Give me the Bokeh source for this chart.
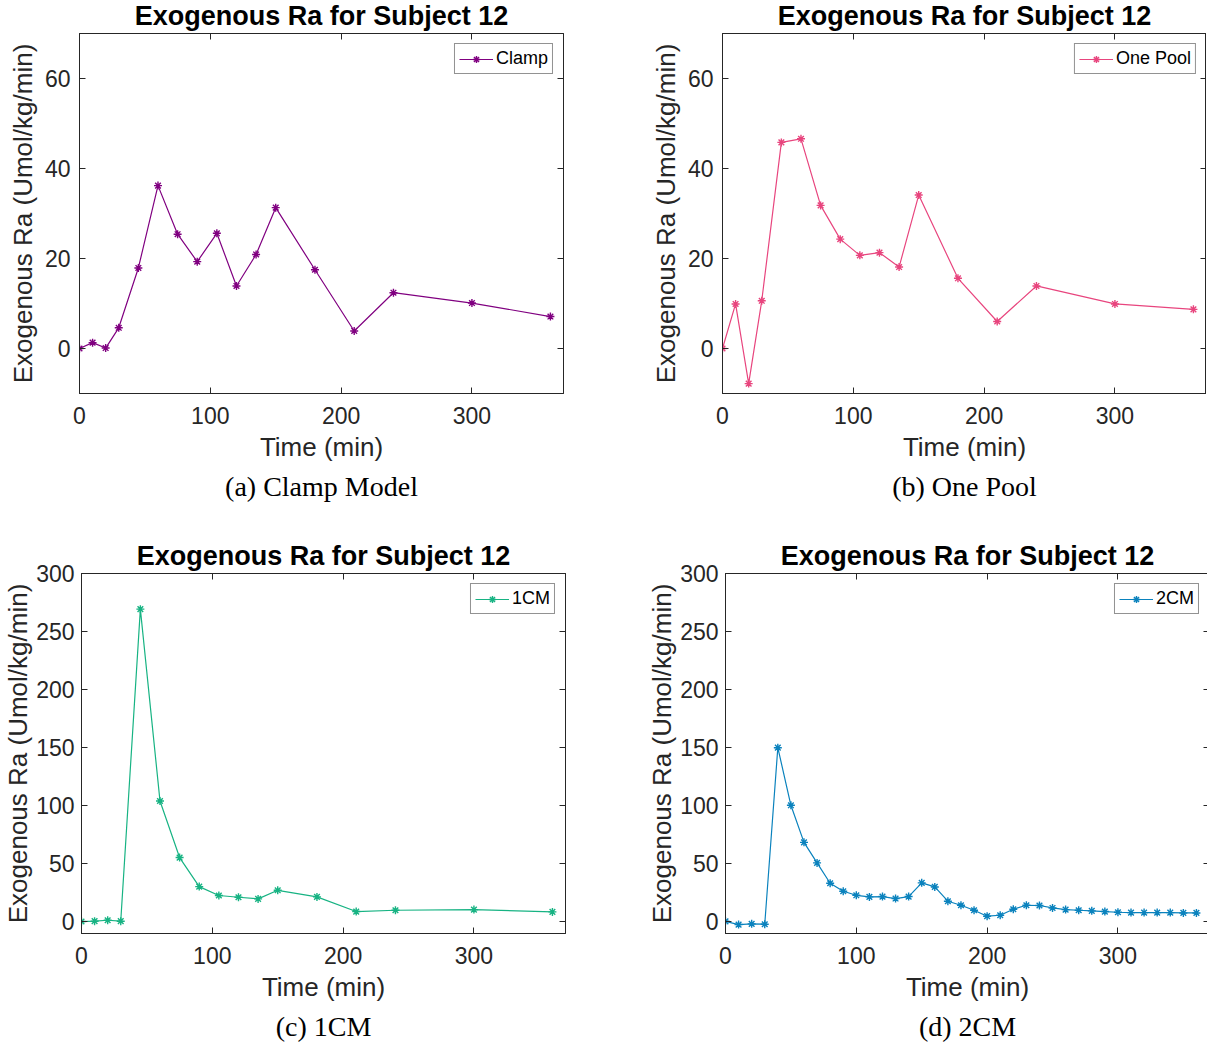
from bokeh.plotting import figure
from bokeh.layouts import column, row
from bokeh.models import (LinearAxis, FixedTicker, Range1d, Title,
                          CustomLabelingPolicy)
from bokeh.embed import file_html
from bokeh.resources import INLINE

# Sampling times (min)
t_std = [0, 10, 20, 30, 45, 60, 75, 90, 105, 120, 135, 150, 180, 210, 240, 300, 360]
t_2cm = [0, 10, 20, 30, 40, 50, 60, 70, 80, 90, 100, 110, 120, 130, 140, 150, 160,
         170, 180, 190, 200, 210, 220, 230, 240, 250, 260, 270, 280, 290, 300, 310,
         320, 330, 340, 350, 360]

# Exogenous Ra estimates (Umol/kg/min)
ra_clamp = [0.0, 1.3, 0.1, 4.6, 17.9, 36.2, 25.4, 19.3, 25.6, 13.9, 20.9, 31.3,
            17.5, 3.9, 12.4, 10.1, 7.1]
ra_one_pool = [0.0, 9.9, -7.8, 10.6, 45.8, 46.6, 31.8, 24.3, 20.7, 21.3, 18.1,
               34.1, 15.6, 6.0, 13.9, 9.9, 8.7]
ra_1cm = [0.3, 0.6, 1.4, 0.6, 269.3, 104.1, 55.4, 30.4, 22.7, 21.2, 19.8, 27.2,
          21.5, 8.9, 10.0, 10.6, 8.6]
ra_2cm = [0.5, -2.3, -1.7, -2.0, 150.0, 100.4, 68.5, 50.8, 33.3, 26.4, 22.9, 21.5,
          21.8, 20.1, 21.8, 33.6, 30.1, 17.8, 14.3, 10.0, 4.9, 5.7, 10.9, 14.3,
          14.1, 12.0, 10.6, 10.0, 9.5, 8.9, 8.3, 8.0, 8.0, 8.0, 8.0, 7.7, 7.7]

x_ticks = [0, 100, 200, 300]
y_ticks_small = [0, 20, 40, 60]
y_ticks_large = [0, 50, 100, 150, 200, 250, 300]

TITLE = "Exogenous Ra for Subject 12"
X_LABEL = "Time (min)"
Y_LABEL = "Exogenous Ra (Umol/kg/min)"

AX_COLOR = "#262626"
SANS = "Liberation Sans"
SERIF = "Liberation Serif"

# tick marks only, no labels, for the box sides
NO_LABELS = CustomLabelingPolicy(code="return new Set()")


def style_axis(ax, ticks, show_labels=True, label_standoff=10):
    ax.ticker = FixedTicker(ticks=ticks)
    ax.axis_line_color = AX_COLOR
    ax.axis_line_width = 1
    ax.major_tick_line_color = AX_COLOR
    ax.major_tick_in = 6
    ax.major_tick_out = 0
    ax.minor_tick_line_color = None
    ax.major_label_text_color = AX_COLOR
    ax.major_label_text_font = SANS
    if show_labels:
        ax.major_label_text_font_size = "23px"
        ax.major_label_standoff = label_standoff
    else:
        ax.major_label_text_font_size = "0px"
        ax.major_label_standoff = 0
        ax.major_label_policy = NO_LABELS


def make_panel(x, y, name, color, y_range, y_ticks, caption, left, right,
               ylab_standoff, ytick_standoff):
    p = figure(
        frame_width=484,
        frame_height=360,
        x_range=Range1d(0, 370),
        y_range=Range1d(*y_range),
        output_backend="svg",
        toolbar_location=None,
        min_border_left=left,
        min_border_right=right,
        min_border_top=40,
        min_border_bottom=10,
    )
    p.background_fill_color = "white"
    p.border_fill_color = "white"
    p.outline_line_color = AX_COLOR
    p.grid.visible = False

    p.title.text = TITLE
    p.title.align = "center"
    p.title.text_font = SANS
    p.title.text_font_size = "27px"
    p.title.text_font_style = "bold"
    p.title.text_color = "black"
    p.title.standoff = 6

    style_axis(p.xaxis[0], x_ticks, label_standoff=13)
    style_axis(p.yaxis[0], y_ticks, label_standoff=ytick_standoff)
    p.xaxis[0].axis_label = X_LABEL
    p.yaxis[0].axis_label = Y_LABEL
    for ax in (p.xaxis[0], p.yaxis[0]):
        ax.axis_label_text_font = SANS
        ax.axis_label_text_font_size = "26px"
        ax.axis_label_text_font_style = "normal"
        ax.axis_label_text_color = AX_COLOR
    p.xaxis[0].axis_label_standoff = 5
    p.yaxis[0].axis_label_standoff = ylab_standoff

    # box ticks on the opposite sides
    top = LinearAxis()
    style_axis(top, x_ticks, show_labels=False)
    p.add_layout(top, "above")
    rgt = LinearAxis()
    style_axis(rgt, y_ticks, show_labels=False)
    p.add_layout(rgt, "right")

    p.line(x, y, color=color, line_width=1.2, legend_label=name)
    p.scatter(x, y, marker="asterisk", size=8, line_color=color, line_width=1.4,
              legend_label=name)

    lg = p.legend[0]
    lg.location = "top_right"
    lg.margin = 10
    lg.padding = 4
    lg.spacing = 0
    lg.glyph_width = 34
    lg.glyph_height = 18
    lg.label_standoff = 3
    lg.label_text_font = SANS
    lg.label_text_font_size = "18px"
    lg.label_text_color = "black"
    lg.border_line_color = AX_COLOR
    lg.border_line_width = 1
    lg.background_fill_color = "white"
    lg.background_fill_alpha = 1.0

    cap = Title(text=caption, align="center", text_font=SERIF,
                text_font_size="28px", text_font_style="normal",
                text_color="black", standoff=8)
    p.add_layout(cap, "below")
    return p


pa = make_panel(t_std, ra_clamp, "Clamp", "#800080", (-10, 70), y_ticks_small,
                "(a) Clamp Model", 79, 40, 4, 9)
pb = make_panel(t_std, ra_one_pool, "One Pool", "#E8457E", (-10, 70), y_ticks_small,
                "(b) One Pool", 119, 0, 4, 9)
pc = make_panel(t_std, ra_1cm, "1CM", "#17B383", (-10, 300), y_ticks_large,
                "(c) 1CM", 80, 40, 0, 7)
pd = make_panel(t_2cm, ra_2cm, "2CM", "#0A82BD", (-10, 300), y_ticks_large,
                "(d) 2CM", 120, 0, 0, 7)

for p in (pa, pb):
    p.min_border_bottom = 140
for p in (pc, pd):
    p.min_border_bottom = 114

layout = column(row(pa, pb), row(pc, pd), margin=(-7, 0, 0, 0))

with open("out.html", "w") as f:
    f.write(file_html(layout, INLINE))
